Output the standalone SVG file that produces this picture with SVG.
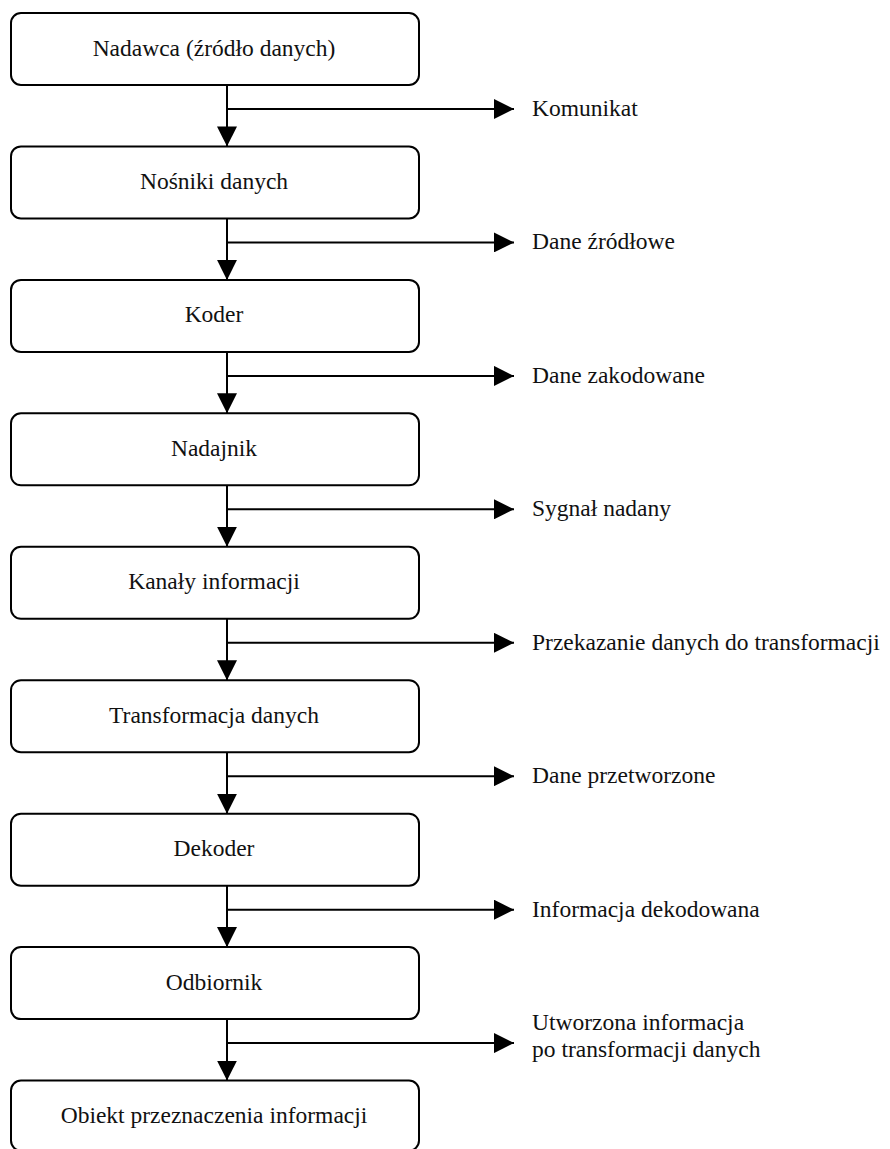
<svg xmlns="http://www.w3.org/2000/svg" width="890" height="1149" viewBox="0 0 890 1149">
  <style>
    .box { fill: #ffffff; stroke: #000000; stroke-width: 2; }
    .lbl { font-family: "Liberation Serif", "Times New Roman", serif; font-size: 23.5px; fill: #111111; }
    .mid { text-anchor: middle; }
    .link { fill: none; stroke: #000000; stroke-width: 2; }
  </style>
  <defs>
    <marker id="head" viewBox="0 0 20 20" refX="20" refY="10" markerWidth="20" markerHeight="20" markerUnits="userSpaceOnUse" orient="auto">
      <path d="M0,0 L20,10 L0,20 Z" fill="#000000"/>
    </marker>
  </defs>
  <rect width="890" height="1149" fill="#ffffff"/>

  <!-- connectors: vertical flow arrows and side branches -->
  <g id="connectors">
    <line class="link" x1="227" y1="85" x2="227" y2="146.4" marker-end="url(#head)"/>
    <line class="link" x1="227" y1="109" x2="514" y2="109" marker-end="url(#head)"/>

    <line class="link" x1="227" y1="218.4" x2="227" y2="279.9" marker-end="url(#head)"/>
    <line class="link" x1="227" y1="242.4" x2="514" y2="242.4" marker-end="url(#head)"/>

    <line class="link" x1="227" y1="351.9" x2="227" y2="413.3" marker-end="url(#head)"/>
    <line class="link" x1="227" y1="375.9" x2="514" y2="375.9" marker-end="url(#head)"/>

    <line class="link" x1="227" y1="485.3" x2="227" y2="546.8" marker-end="url(#head)"/>
    <line class="link" x1="227" y1="509.3" x2="514" y2="509.3" marker-end="url(#head)"/>

    <line class="link" x1="227" y1="618.8" x2="227" y2="680.2" marker-end="url(#head)"/>
    <line class="link" x1="227" y1="642.8" x2="514" y2="642.8" marker-end="url(#head)"/>

    <line class="link" x1="227" y1="752.2" x2="227" y2="813.7" marker-end="url(#head)"/>
    <line class="link" x1="227" y1="776.2" x2="514" y2="776.2" marker-end="url(#head)"/>

    <line class="link" x1="227" y1="885.7" x2="227" y2="947.1" marker-end="url(#head)"/>
    <line class="link" x1="227" y1="909.7" x2="514" y2="909.7" marker-end="url(#head)"/>

    <line class="link" x1="227" y1="1019.1" x2="227" y2="1080.6" marker-end="url(#head)"/>
    <line class="link" x1="227" y1="1043.1" x2="514" y2="1043.1" marker-end="url(#head)"/>
  </g>

  <!-- branch labels -->
  <g id="labels">
    <text class="lbl" x="532" y="116">Komunikat</text>
    <text class="lbl" x="532" y="249.4">Dane źródłowe</text>
    <text class="lbl" x="532" y="382.9">Dane zakodowane</text>
    <text class="lbl" x="532" y="516.3">Sygnał nadany</text>
    <text class="lbl" x="532" y="649.8">Przekazanie danych do transformacji</text>
    <text class="lbl" x="532" y="783.2">Dane przetworzone</text>
    <text class="lbl" x="532" y="916.7">Informacja dekodowana</text>
    <text class="lbl" x="532" y="1030">Utworzona informacja</text>
    <text class="lbl" x="532" y="1057">po transformacji danych</text>
  </g>

  <g id="nadawca">
    <rect class="box" x="11" y="13" width="408" height="72" rx="10"/>
    <text class="lbl mid" x="214" y="55.5">Nadawca (źródło danych)</text>
  </g>
  <g id="nosniki">
    <rect class="box" x="11" y="146.4" width="408" height="72" rx="10"/>
    <text class="lbl mid" x="214" y="188.9">Nośniki danych</text>
  </g>
  <g id="koder">
    <rect class="box" x="11" y="279.9" width="408" height="72" rx="10"/>
    <text class="lbl mid" x="214" y="322.4">Koder</text>
  </g>
  <g id="nadajnik">
    <rect class="box" x="11" y="413.3" width="408" height="72" rx="10"/>
    <text class="lbl mid" x="214" y="455.8">Nadajnik</text>
  </g>
  <g id="kanaly">
    <rect class="box" x="11" y="546.8" width="408" height="72" rx="10"/>
    <text class="lbl mid" x="214" y="589.3">Kanały informacji</text>
  </g>
  <g id="transformacja">
    <rect class="box" x="11" y="680.2" width="408" height="72" rx="10"/>
    <text class="lbl mid" x="214" y="722.7">Transformacja danych</text>
  </g>
  <g id="dekoder">
    <rect class="box" x="11" y="813.7" width="408" height="72" rx="10"/>
    <text class="lbl mid" x="214" y="856.2">Dekoder</text>
  </g>
  <g id="odbiornik">
    <rect class="box" x="11" y="947.1" width="408" height="72" rx="10"/>
    <text class="lbl mid" x="214" y="989.6">Odbiornik</text>
  </g>
  <g id="obiekt">
    <rect class="box" x="11" y="1080.6" width="408" height="70" rx="10"/>
    <text class="lbl mid" x="214" y="1123.1">Obiekt przeznaczenia informacji</text>
  </g>
</svg>
